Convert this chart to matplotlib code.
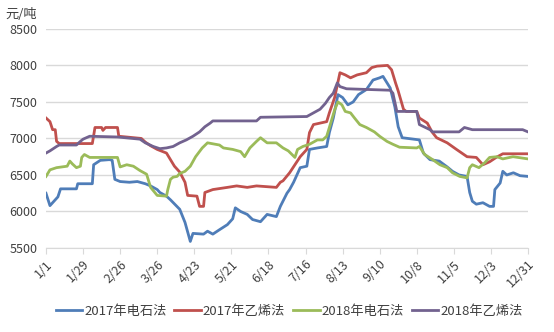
import matplotlib
matplotlib.use("Agg")
import matplotlib.pyplot as plt

plt.rcParams['font.family'] = ['Noto Sans CJK SC', 'DejaVu Sans']

# day of year (0 = 1/1) and price, yuan/ton
blue_d = [0, 3, 5, 9, 11, 23, 24, 35, 36, 41, 48, 50, 52, 56, 63, 69, 75, 79, 84, 86, 91, 94,
          101, 105, 109, 111, 119, 122, 126, 131, 137, 141, 143, 147, 152, 156, 162, 167, 174,
          177, 182, 184, 187, 192, 197, 199, 205, 212, 214, 217, 220.5, 224, 228, 232, 236,
          242, 247, 252, 254.5, 260, 263.5, 266, 269, 282, 285, 290, 297, 303, 307, 312, 318,
          320, 322, 325, 330, 335, 338, 339, 343, 345, 348, 353, 358, 364]
blue_v = [6250, 6080, 6120, 6200, 6310, 6310, 6380, 6380, 6640, 6700, 6710, 6700, 6440, 6410,
          6400, 6410, 6380, 6350, 6300, 6260, 6210, 6160, 6030, 5850, 5590, 5700, 5690, 5730,
          5690, 5750, 5820, 5900, 6050, 6000, 5960, 5890, 5860, 5960, 5930, 6070, 6250, 6300,
          6400, 6600, 6620, 6850, 6870, 6890, 7080, 7280, 7600, 7560, 7460, 7500, 7600, 7670,
          7800, 7830, 7850, 7690, 7430, 7160, 7010, 6980, 6800, 6710, 6690, 6610, 6550, 6500,
          6480, 6260, 6140, 6100, 6120, 6070, 6070, 6300, 6390, 6550, 6500, 6530, 6490, 6480]

red_d = [0, 3, 5, 7, 8, 10, 35, 37, 42, 43, 45, 54, 55, 72, 75, 79, 84, 91, 94, 97, 101, 105,
         107, 114, 116, 119, 120, 126, 137, 144, 152, 159, 174, 177, 179, 184, 188, 192, 197,
         199, 202, 207, 212, 214, 218, 222, 226, 230, 235, 242, 246, 250, 258, 261, 264, 266,
         270, 272, 280, 282, 288, 291.5, 295, 303, 310, 318, 325, 330, 335, 340, 345, 364]
red_v = [7280, 7230, 7120, 7120, 6960, 6930, 6930, 7150, 7150, 7110, 7150, 7150, 7030, 7000,
         6950, 6900, 6850, 6800, 6710, 6620, 6540, 6400, 6220, 6210, 6070, 6070, 6260, 6300,
         6330, 6350, 6330, 6350, 6330, 6400, 6420, 6530, 6640, 6750, 6850, 7080, 7190, 7210,
         7230, 7350, 7560, 7900, 7870, 7830, 7870, 7900, 7970, 7990, 8000, 7940, 7760, 7650,
         7400, 7370, 7370, 7280, 7210, 7090, 7010, 6940, 6850, 6750, 6740, 6640, 6680, 6740,
         6790, 6790]

green_d = [0, 3, 8, 16, 18, 20, 23, 26, 27, 29, 33, 54, 56, 61, 66, 71, 76, 79, 84, 91, 92, 94,
           96, 99, 101, 105, 109, 113, 118, 122, 131, 134, 141, 147, 150, 154, 159, 162, 167,
           174, 179, 183, 188, 190, 194, 199, 205, 209, 212, 214, 218, 220.5, 223.5, 226, 230,
           233, 237, 242, 248, 252, 257.5, 262, 267, 280, 282, 286, 292, 297.5, 303, 307,
           312.5, 318, 320, 322, 327, 331.5, 335, 340.5, 345, 352.7, 364]
green_v = [6480, 6570, 6600, 6620, 6690, 6650, 6600, 6620, 6740, 6780, 6740, 6740, 6610, 6640,
           6620, 6560, 6510, 6330, 6220, 6210, 6300, 6440, 6470, 6480, 6520, 6550, 6620, 6750,
           6870, 6940, 6910, 6870, 6850, 6820, 6750, 6870, 6960, 7010, 6940, 6940, 6870, 6830,
           6740, 6850, 6890, 6920, 6980, 6980, 7030, 7150, 7390, 7500, 7460, 7370, 7350, 7280,
           7190, 7150, 7090, 7030, 6960, 6920, 6880, 6870, 6890, 6780, 6710, 6640, 6600, 6530,
           6480, 6460, 6600, 6640, 6600, 6670, 6740, 6750, 6720, 6750, 6720]

purple_d = [0, 3, 8, 10, 23, 26, 28, 33, 54, 71, 75, 81, 86, 91, 96, 101, 106, 111, 116, 120,
            124, 126, 159, 162, 197, 202, 207, 211, 214, 217, 220, 222, 227, 260, 262, 265,
            280, 282, 290, 292, 312, 316, 320, 322, 360, 364]
purple_v = [6800, 6830, 6890, 6910, 6910, 6960, 6990, 7030, 7020, 6990, 6940, 6890, 6860, 6870,
            6890, 6940, 6980, 7030, 7090, 7160, 7210, 7240, 7240, 7290, 7300, 7350, 7400, 7480,
            7560, 7620, 7760, 7710, 7680, 7660, 7620, 7370, 7370, 7190, 7120, 7090, 7090, 7150,
            7130, 7120, 7120, 7090]

tick_days = list(range(0, 365, 28))
tick_labels = ['1/1', '1/29', '2/26', '3/26', '4/23', '5/21', '6/18', '7/16',
               '8/13', '9/10', '10/8', '11/5', '12/3', '12/31']
names = ['2017年电石法', '2017年乙烯法', '2018年电石法', '2018年乙烯法']

fig = plt.figure(figsize=(5.54, 3.32), dpi=100)
ax = fig.add_axes([0.083, 0.253, 0.870, 0.660])

lw = 2.0
ax.plot(blue_d, blue_v, color='#4f7db8', lw=lw, label=names[0])
ax.plot(red_d, red_v, color='#c0504d', lw=lw, label=names[1])
ax.plot(green_d, green_v, color='#9bbb59', lw=lw, label=names[2])
ax.plot(purple_d, purple_v, color='#72628f', lw=lw, label=names[3])

ax.set_xlim(0, 364)
ax.set_ylim(5500, 8500)
ax.set_yticks(range(5500, 8501, 500))
ax.set_xticks(tick_days)
ax.set_xticklabels(tick_labels, rotation=45, ha='right', rotation_mode='anchor')
ax.grid(axis='y', color='#d9d9d9', lw=1)
ax.set_axisbelow(True)
for s in ['top', 'right', 'left']:
    ax.spines[s].set_visible(False)
ax.spines['bottom'].set_color('#d9d9d9')
ax.tick_params(axis='y', length=0, labelsize=9, pad=6, colors='#404040')
ax.tick_params(axis='x', length=4, color='#d9d9d9', labelsize=9, pad=3, colors='#404040')

fig.text(0.01, 0.955, '元/吨', fontsize=9.5, color='#404040', ha='left', va='center')

fig.legend(loc='center', bbox_to_anchor=(0.522, 0.062), ncol=4, frameon=False,
           fontsize=9.5, handlelength=2.0, handletextpad=0.15, columnspacing=0.6,
           labelcolor='#404040')

fig.savefig('out.png', dpi=100)
